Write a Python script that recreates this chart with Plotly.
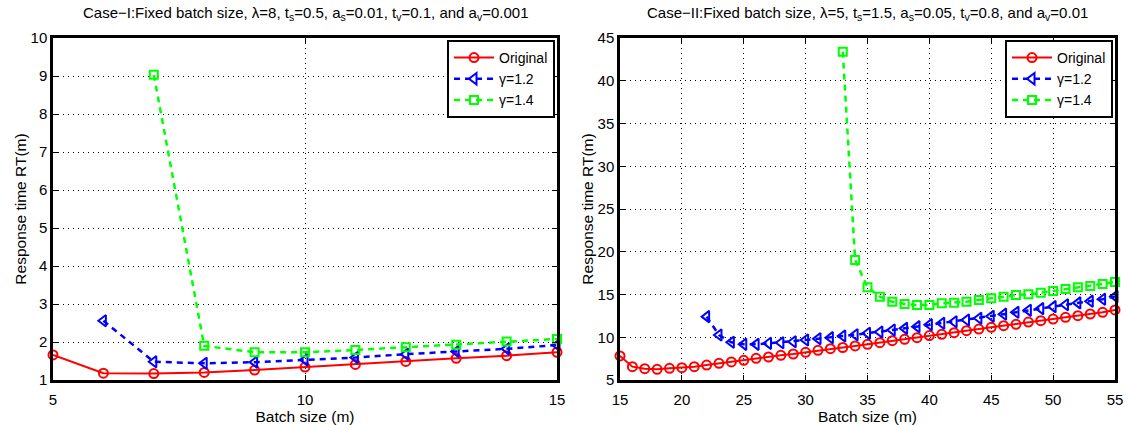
import plotly.graph_objects as go

# ---------------- Data: Case I ----------------
m1 = [5, 6, 7, 8, 9, 10, 11, 12, 13, 14, 15]
orig1 = [1.66, 1.18, 1.17, 1.20, 1.26, 1.34, 1.41, 1.49, 1.57, 1.64, 1.73]
m1_g12 = [6, 7, 8, 9, 10, 11, 12, 13, 14, 15]
g12_1 = [2.56, 1.48, 1.44, 1.47, 1.53, 1.59, 1.68, 1.75, 1.82, 1.92]
m1_g14 = [7, 8, 9, 10, 11, 12, 13, 14, 15]
g14_1 = [9.03, 1.90, 1.73, 1.73, 1.79, 1.86, 1.93, 2.01, 2.08]

# ---------------- Data: Case II ----------------
m2 = list(range(15, 56))
orig2 = [7.81, 6.56, 6.33, 6.25, 6.36, 6.44, 6.56, 6.75, 6.95, 7.11,
         7.30, 7.54, 7.69, 7.89, 8.04, 8.24, 8.47, 8.66, 8.80, 8.98,
         9.17, 9.36, 9.60, 9.76, 9.95, 10.20, 10.34, 10.53, 10.77, 10.96,
         11.16, 11.35, 11.51, 11.78, 11.94, 12.13, 12.33, 12.52, 12.72, 12.92,
         13.19]
m2_g12 = list(range(22, 56))
g12_2 = [12.41, 10.26, 9.41, 9.17, 9.17, 9.29, 9.36, 9.48, 9.68, 9.83,
         9.95, 10.15, 10.30, 10.46, 10.61, 10.85, 11.04, 11.24, 11.47, 11.63,
         11.82, 12.02, 12.22, 12.45, 12.70, 12.92, 13.15, 13.35, 13.58, 13.80,
         14.02, 14.22, 14.45, 14.78]
m2_g14 = list(range(33, 56))
g14_2 = [43.4, 19.04, 15.84, 14.75, 14.16, 13.89, 13.77, 13.77, 13.97, 14.04,
         14.16, 14.36, 14.55, 14.75, 14.94, 15.02, 15.21, 15.40, 15.65, 15.85,
         16.00, 16.23, 16.46]

titles = [
    "Case\u2212I:Fixed batch size, \u03bb=8, t<sub>s</sub>=0.5, a<sub>s</sub>=0.01, t<sub>v</sub>=0.1, and a<sub>v</sub>=0.001",
    "Case\u2212II:Fixed batch size, \u03bb=5, t<sub>s</sub>=1.5, a<sub>s</sub>=0.05, t<sub>v</sub>=0.8, and a<sub>v</sub>=0.01",
]
names = ["Original", "\u03b3=1.2", "\u03b3=1.4"]

FONT = "Liberation Sans, Arial, Helvetica, sans-serif"
RED, BLUE, GREEN = "#FF0000", "#0000FF", "#00FF00"

fig = go.Figure()


def add(xo, yo, xb, yb, xg, yg, suffix, leg):
    xa = "x" + suffix
    ya = "y" + suffix
    fig.add_trace(go.Scatter(
        x=xo, y=yo, xaxis=xa, yaxis=ya, name=names[0], legend=leg,
        mode="lines+markers", cliponaxis=False,
        line=dict(color=RED, width=2),
        marker=dict(symbol="circle-open", size=9, color=RED, line=dict(width=2, color=RED)),
    ))
    fig.add_trace(go.Scatter(
        x=xb, y=yb, xaxis=xa, yaxis=ya, name=names[1], legend=leg,
        mode="lines+markers", cliponaxis=False,
        line=dict(color=BLUE, width=2.5, dash="6px,5px"),
        marker=dict(symbol="triangle-left-open", size=10, color=BLUE, line=dict(width=2, color=BLUE)),
    ))
    fig.add_trace(go.Scatter(
        x=xg, y=yg, xaxis=xa, yaxis=ya, name=names[2], legend=leg,
        mode="lines+markers", cliponaxis=False,
        line=dict(color=GREEN, width=2.5, dash="6px,5px"),
        marker=dict(symbol="square-open", size=8, color=GREEN, line=dict(width=2, color=GREEN)),
    ))


add(m1, orig1, m1_g12, g12_1, m1_g14, g14_1, "", "legend")
add(m2, orig2, m2_g12, g12_2, m2_g14, g14_2, "2", "legend2")

W, H = 1136, 425
top, bottom = 38, 380
ydom = [1 - bottom / H, 1 - top / H]
xdom1 = [53 / W, 557 / W]
xdom2 = [620 / W, 1115 / W]

axis_common = dict(
    showline=True, linecolor="black", linewidth=2.5, mirror="ticks",
    ticks="inside", ticklen=5, tickwidth=1, tickcolor="black",
    showgrid=True, gridcolor="black", gridwidth=1, griddash="1px,4px",
    zeroline=False, automargin=False,
    tickfont=dict(size=15, color="black", family=FONT),
    title_font=dict(size=15.5, color="black", family=FONT),
)

legend_common = dict(
    xanchor="right", y=1 - 40 / H, yanchor="top",
    bgcolor="white", bordercolor="black", borderwidth=2,
    font=dict(size=14, family=FONT, color="black"), tracegroupgap=0,
    itemwidth=40,
)

fig.update_layout(
    width=W, height=H,
    margin=dict(l=0, r=0, t=0, b=0, pad=0, autoexpand=False),
    paper_bgcolor="white", plot_bgcolor="white",
    font=dict(family=FONT, color="black"),
    xaxis=dict(domain=xdom1, range=[5, 15], tickvals=[5, 10, 15], anchor="y",
               ticklabelstandoff=4,
               title=dict(text="Batch size (m)", standoff=1), **axis_common),
    yaxis=dict(domain=ydom, range=[1, 10], dtick=1, anchor="x",
               title=dict(text="Response time RT(m)", standoff=1), **axis_common),
    xaxis2=dict(domain=xdom2, range=[15, 55], dtick=5, anchor="y2",
                ticklabelstandoff=4,
                title=dict(text="Batch size (m)", standoff=1), **axis_common),
    yaxis2=dict(domain=ydom, range=[5, 45], dtick=5, anchor="x2",
                title=dict(text="Response time RT(m)", standoff=1), **axis_common),
    legend=dict(x=555 / W, **legend_common),
    legend2=dict(x=1113 / W, **legend_common),
    showlegend=True,
)

for i, t in enumerate(titles):
    xc = (xdom1[0] + xdom1[1]) / 2 if i == 0 else (xdom2[0] + xdom2[1]) / 2
    fig.add_annotation(text=t, xref="paper", yref="paper", x=xc, y=1 - 13 / H,
                       xanchor="center", yanchor="middle", showarrow=False,
                       font=dict(size=15, family=FONT, color="black"))

fig.write_html("out.html")
